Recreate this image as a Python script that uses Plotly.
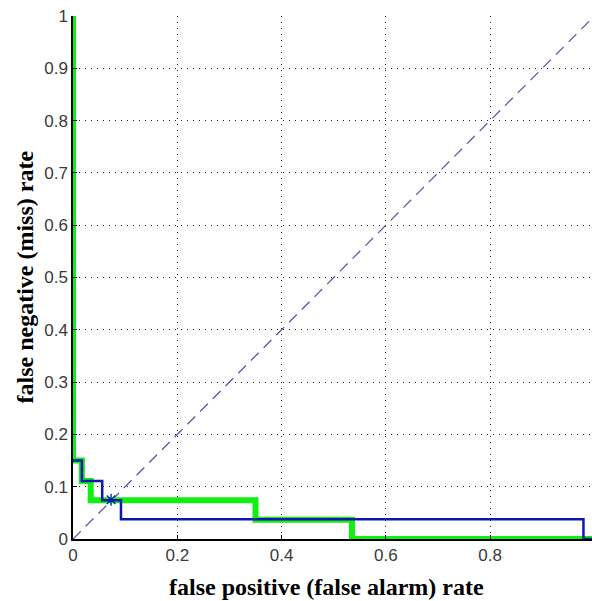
import plotly.graph_objects as go

# Green DET curve (step points)
green_fpr = [0, 0, 0.017, 0.017, 0.034, 0.034, 0.35, 0.35, 0.535, 0.535, 1.0]
green_fnr = [1.0, 0.15, 0.15, 0.111, 0.111, 0.074, 0.074, 0.037, 0.037, 0.0, 0.0]

# Blue DET curve (step points)
blue_fpr = [0, 0.017, 0.017, 0.056, 0.056, 0.092, 0.092, 0.979, 0.979, 1.0]
blue_fnr = [0.15, 0.15, 0.111, 0.111, 0.074, 0.074, 0.038, 0.038, 0.0, 0.0]

# Equal error rate marker
eer_x = [0.073]
eer_y = [0.075]

# Diagonal reference
diag_x = [0, 1]
diag_y = [0, 1]

x_ticks = [0, 0.2, 0.4, 0.6, 0.8, 1.0]
x_labels = ["0", "0.2", "0.4", "0.6", "0.8", "1"]
y_ticks = [0, 0.1, 0.2, 0.3, 0.4, 0.5, 0.6, 0.7, 0.8, 0.9, 1.0]
y_labels = ["0", "0.1", "0.2", "0.3", "0.4", "0.5", "0.6", "0.7", "0.8", "0.9", "1"]

x_title = "false positive (false alarm) rate"
y_title = "false negative (miss) rate"

BLUE = "#0c18b0"
GREEN = "#11ee11"
TICKFONT = dict(family="Liberation Sans, Arial, sans-serif", size=17, color="#3a3a3a")
TITLEFONT = dict(family="Liberation Serif, Times New Roman, serif", size=24, color="black")

fig = go.Figure()
fig.add_trace(go.Scatter(x=diag_x, y=diag_y, mode="lines",
                         line=dict(color="#5a50a8", width=1.2, dash="11px,7px"),
                         hoverinfo="skip", showlegend=False))
fig.add_trace(go.Scatter(x=green_fpr, y=green_fnr, mode="lines",
                         line=dict(color=GREEN, width=6),
                         showlegend=False, cliponaxis=True))
fig.add_trace(go.Scatter(x=blue_fpr, y=blue_fnr, mode="lines",
                         line=dict(color=BLUE, width=2.5),
                         showlegend=False, cliponaxis=False))
fig.add_trace(go.Scatter(x=eer_x, y=eer_y, mode="markers",
                         marker=dict(symbol="asterisk-open", size=10, color=BLUE,
                                     line=dict(color=BLUE, width=1.3)),
                         showlegend=False))

axis_common = dict(
    showgrid=True, gridcolor="#222222", griddash="1px,5px", gridwidth=1,
    zeroline=False, showline=True, linecolor="black", linewidth=1.5,
    ticks="inside", ticklen=4, tickcolor="black", layer="above traces",
    tickfont=TICKFONT, automargin=False,
)

fig.update_layout(
    width=592, height=601,
    margin=dict(l=73, r=0, t=16, b=62),
    paper_bgcolor="white", plot_bgcolor="white",
    xaxis=dict(range=[0, 0.9954], tickvals=x_ticks, ticktext=x_labels, **axis_common),
    yaxis=dict(range=[0, 1], tickvals=y_ticks, ticktext=y_labels, **axis_common),
    annotations=[
        dict(text="<b>" + x_title + "</b>", xref="paper", yref="paper",
             x=0.4875, y=-0.092, xanchor="center", yanchor="middle",
             showarrow=False, font=TITLEFONT),
        dict(text="<b>" + y_title + "</b>", xref="paper", yref="paper",
             x=-0.0944, y=0.5, xanchor="center", yanchor="middle", textangle=-90,
             showarrow=False, font=TITLEFONT),
        dict(text="1", xref="x", yref="paper", x=1.0, y=-0.015,
             xanchor="center", yanchor="top", showarrow=False, font=TICKFONT),
    ],
)

fig.write_html(
    "out.html",
    config={"displayModeBar": False},
    post_script="document.body.style.margin='0';document.body.style.overflow='hidden';"
                "document.documentElement.style.overflow='hidden';",
)
